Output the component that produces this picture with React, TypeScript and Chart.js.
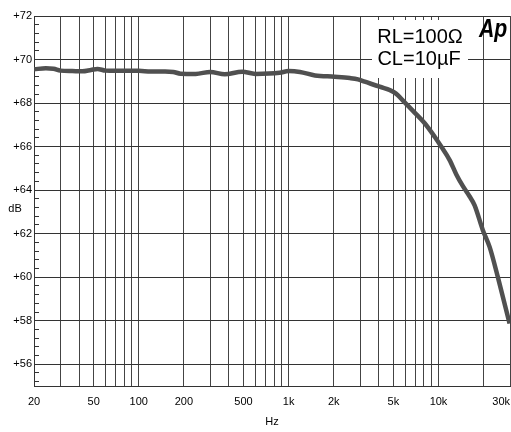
import React, { useEffect, useRef } from 'react';
import { Chart, registerables } from 'chart.js';

Chart.register(...registerables);

// frequency response
const freqHz = [
  20, 24, 27, 30, 36, 42, 48, 53, 60, 70, 100, 120, 150, 170, 190, 240, 300, 375, 490, 600,
  870, 1000, 1190, 1500, 2030, 2560, 2900, 3220, 4050, 5100, 5950, 6930, 8090, 9430, 10450,
  11870, 13150, 14550, 16100, 17420, 19770, 21930, 24900, 29800,
];
const levelDb = [
  69.55, 69.6, 69.58, 69.49, 69.47, 69.46, 69.52, 69.57, 69.49, 69.48, 69.48, 69.45, 69.45, 69.43,
  69.35, 69.34, 69.43, 69.32, 69.44, 69.34, 69.39, 69.47, 69.43, 69.27, 69.21, 69.15, 69.09, 68.98,
  68.75, 68.48, 68.03, 67.56, 67.07, 66.45, 65.99, 65.38, 64.72, 64.18, 63.72, 63.3, 62.16, 61.39,
  60.0, 57.87,
];

// vertical grid lines, 1..9 per decade
const gridHz = [
  20, 30, 40, 50, 60, 70, 80, 90, 100, 200, 300, 400, 500, 600, 700, 800, 900,
  1000, 2000, 3000, 4000, 5000, 6000, 7000, 8000, 9000, 10000, 20000, 30000,
];
const labelHz = [20, 50, 100, 200, 500, 1000, 2000, 5000, 10000, 30000];
const labelHzText = ['20', '50', '100', '200', '500', '1k', '2k', '5k', '10k', '30k'];

const dbMajor = [56, 58, 60, 62, 64, 66, 68, 70, 72];
const dbMin = 55;
const dbMax = 72;
const dbMinorStep = 0.4;

const legendLines = ['RL=100Ω', 'CL=10µF'];

const FONT = '"Liberation Sans", Arial, sans-serif';

const isMajor = (v: number) => dbMajor.includes(Math.round(v * 10) / 10);

// white note box, load text, logo and the dB label
const notesPlugin = {
  id: 'notes',
  beforeDatasetsDraw(chart: any) {
    const { ctx, chartArea } = chart;
    const r = chartArea.right;
    const t = chartArea.top;
    ctx.save();
    ctx.fillStyle = '#fff';
    ctx.fillRect(r - 138, t + 4, 96, 58);
    ctx.fillStyle = '#000';
    ctx.textAlign = 'center';
    ctx.textBaseline = 'alphabetic';
    ctx.font = '20px ' + FONT;
    ctx.fillText(legendLines[0], r - 90, t + 27);
    ctx.fillText(legendLines[1], r - 91, t + 49);

    // squeezed heavy italic logo
    ctx.save();
    ctx.translate(r - 31, t + 21);
    ctx.scale(0.85, 1);
    ctx.textAlign = 'left';
    ctx.font = 'italic bold 25px ' + FONT;
    ctx.fillText('Ap', 0, 0);
    ctx.restore();

    ctx.font = '11px ' + FONT;
    ctx.textAlign = 'center';
    ctx.textBaseline = 'middle';
    ctx.fillText('dB', 15, (chartArea.top + chartArea.bottom) / 2 + 8);
    ctx.restore();
  },
};

const ResponseChart: React.FC = () => {
  const chartRef = useRef<HTMLCanvasElement | null>(null);
  const chartInstance = useRef<Chart | null>(null);

  useEffect(() => {
    document.body.style.margin = '0';
    if (!chartRef.current) return;
    if (chartInstance.current) chartInstance.current.destroy();

    chartInstance.current = new Chart(chartRef.current, {
      type: 'line',
      data: {
        datasets: [{
          data: freqHz.map((f, i) => ({ x: f, y: levelDb[i] })),
          borderColor: '#505050',
          borderWidth: 4.5,
          pointRadius: 0,
          cubicInterpolationMode: 'monotone',
          fill: false,
        }],
      },
      options: {
        responsive: false,
        animation: false,
        layout: { padding: { left: 0, right: 1, top: 16, bottom: 0 } },
        plugins: { legend: { display: false }, tooltip: { enabled: false } },
        scales: {
          x: {
            type: 'logarithmic',
            min: 20,
            max: 30000,
            afterBuildTicks: (scale: any) => {
              // leading blank tick so "20" stays centred while "30k" hugs the edge
              scale.ticks = [{ value: 20 }, ...gridHz.map((v) => ({ value: v }))];
            },
            afterFit: (scale: any) => {
              scale.height = 46;
              scale.paddingLeft = 0;
              scale.paddingRight = 0;
            },
            grid: { color: '#444', lineWidth: 1, drawTicks: false },
            border: { color: '#333', width: 1 },
            ticks: {
              autoSkip: false,
              maxRotation: 0,
              align: 'inner',
              padding: 9,
              color: '#000',
              font: { family: FONT, size: 11 },
              callback: (value: any, index: number) => {
                if (index === 0) return '';
                const k = labelHz.indexOf(Number(value));
                return k >= 0 ? labelHzText[k] : '';
              },
            },
            title: {
              display: true,
              text: 'Hz',
              color: '#000',
              font: { family: FONT, size: 11 },
              padding: { top: 0, bottom: 3 },
            },
          },
          y: {
            min: dbMin,
            max: dbMax,
            afterBuildTicks: (scale: any) => {
              const ticks = [];
              for (let k = -2; 56 + k * dbMinorStep <= dbMax + 1e-6; k++) {
                ticks.push({ value: Math.round((56 + k * dbMinorStep) * 10) / 10 });
              }
              scale.ticks = ticks;
            },
            afterFit: (scale: any) => {
              scale.width = 34;
              scale.paddingTop = 0;
              scale.paddingBottom = 0;
            },
            grid: {
              color: (ctx: any) => (isMajor(ctx.tick.value) ? '#333' : 'rgba(0,0,0,0)'),
              tickColor: '#333',
              tickLength: -5,
              lineWidth: 1,
            },
            border: { color: '#333', width: 1 },
            ticks: {
              autoSkip: false,
              padding: 7,
              color: '#000',
              font: { family: FONT, size: 11 },
              callback: (value: any) => (dbMajor.includes(Number(value)) ? '+' + value : ''),
            },
          },
        },
      },
      plugins: [notesPlugin],
    });

    return () => {
      if (chartInstance.current) {
        chartInstance.current.destroy();
        chartInstance.current = null;
      }
    };
  }, []);

  return (
    <div style={{ width: 511, height: 432, background: '#fff' }}>
      <canvas ref={chartRef} width={511} height={432}></canvas>
    </div>
  );
};

export default function App() {
  return <ResponseChart />;
}
